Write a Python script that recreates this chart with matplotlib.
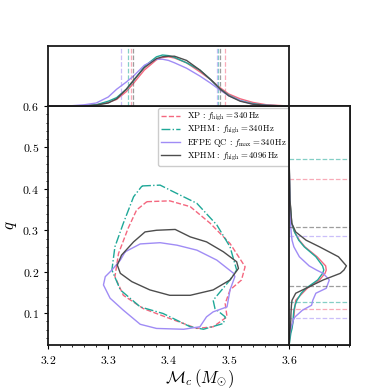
import matplotlib
matplotlib.use('Agg')
import matplotlib.pyplot as plt
import numpy as np
from matplotlib.ticker import AutoMinorLocator, MultipleLocator

plt.rcParams['font.family'] = 'serif'
plt.rcParams['font.serif'] = ['cmr10', 'DejaVu Serif']
plt.rcParams['mathtext.fontset'] = 'cm'
plt.rcParams['axes.unicode_minus'] = False
plt.rcParams['axes.formatter.use_mathtext'] = True

labels = [r'$\mathrm{XP}\,:\,f_{\mathrm{high}} = 340\,\mathrm{Hz}$',
          r'$\mathrm{XPHM}\,:\,f_{\mathrm{high}} = 340\,\mathrm{Hz}$',
          r'$\mathrm{EFPE}\ \mathrm{QC}\,:\,f_{\mathrm{max}} = 340\,\mathrm{Hz}$',
          r'$\mathrm{XPHM}\,:\,f_{\mathrm{high}} = 4096\,\mathrm{Hz}$']
colors = ['#f4677f', '#1fa898', '#a08cf5', '#4d4d4d']
styles = ['--', '-.', '-', '-']

# 90% contours (Mc, q)
xp_mc = [3.364, 3.402, 3.436, 3.469, 3.502, 3.527, 3.521, 3.502, 3.494, 3.497, 3.474, 3.447,
         3.402, 3.358, 3.325, 3.311, 3.317, 3.333, 3.347, 3.364]
xp_q = [0.369, 0.371, 0.357, 0.317, 0.268, 0.212, 0.180, 0.156, 0.123, 0.091, 0.067, 0.063,
        0.087, 0.111, 0.143, 0.188, 0.244, 0.305, 0.349, 0.369]
xphm_mc = [3.356, 3.386, 3.408, 3.447, 3.480, 3.502, 3.513, 3.502, 3.474, 3.477, 3.494, 3.491,
           3.458, 3.436, 3.391, 3.353, 3.320, 3.306, 3.311, 3.325, 3.342, 3.356]
xphm_q = [0.407, 0.409, 0.393, 0.365, 0.313, 0.260, 0.204, 0.180, 0.131, 0.111, 0.091, 0.075,
          0.061, 0.067, 0.099, 0.115, 0.156, 0.204, 0.260, 0.317, 0.381, 0.407]
efpe_mc = [3.328, 3.353, 3.386, 3.414, 3.447, 3.480, 3.508, 3.510, 3.502, 3.497, 3.474, 3.463,
           3.452, 3.425, 3.380, 3.353, 3.325, 3.303, 3.292, 3.295, 3.306, 3.320, 3.328]
efpe_q = [0.248, 0.267, 0.270, 0.264, 0.252, 0.228, 0.196, 0.188, 0.156, 0.115, 0.103, 0.091,
          0.067, 0.061, 0.063, 0.073, 0.107, 0.136, 0.168, 0.188, 0.204, 0.228, 0.248]
hm4096_mc = [3.315, 3.322, 3.342, 3.361, 3.380, 3.411, 3.436, 3.463, 3.491, 3.513, 3.516, 3.502,
             3.474, 3.436, 3.402, 3.369, 3.339, 3.320, 3.315]
hm4096_q = [0.216, 0.240, 0.272, 0.296, 0.300, 0.302, 0.284, 0.272, 0.248, 0.224, 0.208, 0.180,
            0.156, 0.143, 0.143, 0.156, 0.176, 0.196, 0.216]

# marginal of Mc
mc_grid = [3.20, 3.24, 3.26, 3.28, 3.30, 3.314, 3.33, 3.342, 3.36, 3.38, 3.39, 3.40, 3.41,
           3.43, 3.452, 3.47, 3.485, 3.50, 3.519, 3.54, 3.563, 3.60]
mc_xp = [0.0, 0.0, 0.005, 0.02, 0.06, 0.11, 0.24, 0.38, 0.60, 0.77, 0.81, 0.82, 0.80,
         0.72, 0.57, 0.44, 0.31, 0.20, 0.12, 0.06, 0.02, 0.0]
mc_xphm = [0.0, 0.0, 0.005, 0.02, 0.08, 0.14, 0.28, 0.42, 0.66, 0.82, 0.85, 0.84, 0.81,
           0.72, 0.60, 0.44, 0.29, 0.18, 0.09, 0.04, 0.01, 0.0]
mc_efpe = [0.0, 0.005, 0.02, 0.05, 0.15, 0.28, 0.40, 0.50, 0.68, 0.78, 0.78, 0.76, 0.72,
           0.63, 0.50, 0.38, 0.27, 0.17, 0.09, 0.03, 0.01, 0.0]
mc_4096 = [0.0, 0.0, 0.0, 0.015, 0.05, 0.12, 0.28, 0.43, 0.64, 0.79, 0.82, 0.83, 0.83,
           0.76, 0.60, 0.44, 0.29, 0.17, 0.08, 0.03, 0.01, 0.0]
mc_quant = [[3.337, 3.494], [3.333, 3.482], [3.321, 3.480], [3.341, 3.485]]

# marginal of q
q_grid = [0.02, 0.051, 0.063, 0.083, 0.091, 0.107, 0.119, 0.131, 0.148, 0.160, 0.180, 0.196,
          0.204, 0.214, 0.236, 0.260, 0.276, 0.296, 0.317, 0.373, 0.45, 0.6]
q_xp = [0.0, 0.02, 0.04, 0.07, 0.08, 0.09, 0.10, 0.11, 0.22, 0.30, 0.50, 0.59,
        0.61, 0.60, 0.46, 0.26, 0.17, 0.09, 0.045, 0.015, 0.005, 0.0]
q_xphm = [0.0, 0.03, 0.05, 0.07, 0.07, 0.08, 0.10, 0.13, 0.20, 0.28, 0.47, 0.55,
          0.57, 0.55, 0.44, 0.25, 0.16, 0.09, 0.045, 0.015, 0.005, 0.0]
q_efpe = [0.0, 0.01, 0.03, 0.07, 0.10, 0.22, 0.37, 0.39, 0.44, 0.61, 0.66, 0.56,
          0.45, 0.33, 0.17, 0.08, 0.05, 0.035, 0.025, 0.012, 0.004, 0.0]
q_4096 = [0.0, 0.01, 0.02, 0.03, 0.03, 0.035, 0.04, 0.05, 0.11, 0.28, 0.56, 0.84,
          0.90, 0.94, 0.81, 0.50, 0.28, 0.11, 0.045, 0.017, 0.005, 0.0]
q_quant = [[0.110, 0.423], [0.126, 0.471], [0.089, 0.287], [0.165, 0.308]]

fig = plt.figure(figsize=(3.89, 3.89), dpi=100)
ax = fig.add_axes([0.1234, 0.1131, 0.7766, 0.6144])
ax_top = fig.add_axes([0.1234, 0.7275, 0.6195, 0.1542])
ax_right = fig.add_axes([0.7429, 0.1131, 0.157, 0.6144])

contours = [(xp_mc, xp_q), (xphm_mc, xphm_q), (efpe_mc, efpe_q), (hm4096_mc, hm4096_q)]
for (cx, cy), c, ls, lab in zip(contours, colors, styles, labels):
    ax.plot(cx, cy, color=c, ls=ls, lw=1.0, label=lab)

for dens, c, qs in zip([mc_xp, mc_xphm, mc_efpe, mc_4096], colors, mc_quant):
    ax_top.plot(mc_grid, dens, color=c, lw=1.0)
    for v in qs:
        ax_top.axvline(v, color=c, ls='--', lw=0.9, alpha=0.55)

for dens, c, qs in zip([q_xp, q_xphm, q_efpe, q_4096], colors, q_quant):
    ax_right.plot(dens, q_grid, color=c, lw=1.0)
    for v in qs:
        ax_right.axhline(v, color=c, ls='--', lw=0.9, alpha=0.55)

ax.set_xlim(3.2, 3.7012)
ax.set_ylim(0.023, 0.6)
ax.set_xticks([3.2, 3.3, 3.4, 3.5, 3.6])
ax.set_yticks([0.1, 0.2, 0.3, 0.4, 0.5, 0.6])
ax.xaxis.set_minor_locator(MultipleLocator(0.02))
ax.yaxis.set_minor_locator(AutoMinorLocator(5))
ax.tick_params(labelsize=8.5, width=0.8, length=3)
ax.tick_params(which='minor', length=1.5, width=0.6)
ax.set_xlabel(r'$\mathcal{M}_c\,(M_{\odot})$', fontsize=12, labelpad=1)
ax.set_ylabel(r'$q$', fontsize=12, labelpad=2)

ax_top.set_xlim(3.2, 3.6)
ax_top.set_ylim(0, 1)
ax_top.set_xticks([])
ax_top.set_yticks([])
ax_right.set_ylim(0.023, 0.6)
ax_right.set_xlim(0, 1)
ax_right.set_xticks([])
ax_right.set_yticks([])

for a in (ax, ax_top, ax_right):
    for s in a.spines.values():
        s.set_linewidth(1.3)
        s.set_color('#1a1a1a')

leg = ax.legend(loc='upper right', bbox_to_anchor=(0.7455, 0.722), bbox_transform=fig.transFigure,
                fontsize=6.3, borderaxespad=0, handlelength=2.2, labelspacing=0.12,
                borderpad=0.35, framealpha=1, edgecolor='#cccccc', fancybox=True)
leg.set_zorder(5)

fig.savefig('out.png', dpi=100)
